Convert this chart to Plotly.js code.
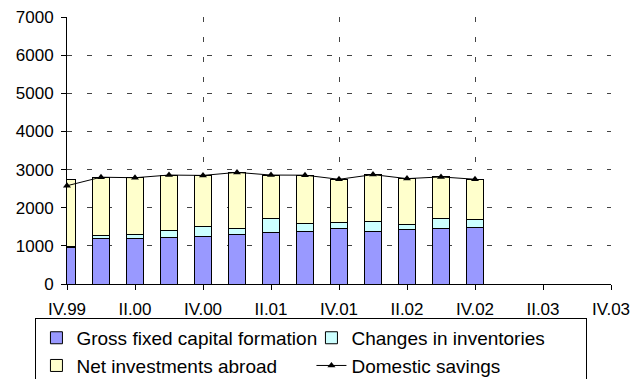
<!DOCTYPE html>
<html>
<head>
<meta charset="utf-8">
<script src="https://cdn.plot.ly/plotly-3.0.1.min.js"></script>
<style>html,body{margin:0;padding:0;background:#fff;}#chart{width:637px;height:379px;}</style>
</head>
<body>
<div id="chart"></div>
<script>
// Quarter categories (full axis) and quarters with data
const quarters = ['IV.99','I.00','II.00','III.00','IV.00','I.01','II.01','III.01','IV.01','I.02','II.02','III.02','IV.02','I.03','II.03','III.03','IV.03'];
const dataQuarters = ['IV.99','I.00','II.00','III.00','IV.00','I.01','II.01','III.01','IV.01','I.02','II.02','III.02','IV.02'];
const tickLabels = ['IV.99','II.00','IV.00','II.01','IV.01','II.02','IV.02','II.03','IV.03'];
const gridQuarters = ['IV.99','IV.00','IV.01','IV.02','IV.03'];

const grossFixedCapital = [970, 1205, 1205, 1231, 1258, 1293, 1345, 1374, 1448, 1377, 1430, 1465, 1491];
const changesInventories = [20, 60, 95, 165, 245, 157, 385, 215, 166, 263, 123, 254, 193];
const netInvestmentsAbroad = [1761, 1530, 1486, 1460, 1344, 1476, 1126, 1264, 1131, 1228, 1210, 1088, 1062];
const domesticSavings = [2576, 2800, 2786, 2856, 2847, 2926, 2856, 2853, 2745, 2868, 2763, 2807, 2746];

const font = 'Liberation Sans, Arial, sans-serif';
const barLine = {color: '#000', width: 1};

const traces = [
  {type: 'bar', name: 'Gross fixed capital formation', x: dataQuarters, y: grossFixedCapital,
   marker: {color: '#9999FF', line: barLine}, width: 0.5, hoverinfo: 'y'},
  {type: 'bar', name: 'Changes in inventories', x: dataQuarters, y: changesInventories,
   marker: {color: '#CCFFFF', line: barLine}, width: 0.5, hoverinfo: 'y'},
  {type: 'bar', name: 'Net investments abroad', x: dataQuarters, y: netInvestmentsAbroad,
   marker: {color: '#FFFFCC', line: barLine}, width: 0.5, hoverinfo: 'y'},
  {type: 'scatter', mode: 'lines+markers', name: 'Domestic savings', x: dataQuarters, y: domesticSavings,
   line: {color: '#000', width: 1}, marker: {symbol: 'triangle-up', size: 7, color: '#000'}, cliponaxis: false},
  {type: 'scatter', mode: 'markers', x: quarters, y: quarters.map(() => null), xaxis: 'x2',
   showlegend: false, hoverinfo: 'skip'}
];

const layout = {
  width: 637, height: 379,
  margin: {l: 67, r: 26, t: 17, b: 95, autoexpand: false},
  paper_bgcolor: '#fff', plot_bgcolor: '#fff',
  barmode: 'stack',
  font: {family: font, size: 17, color: '#000'},
  showlegend: true,
  xaxis: {
    type: 'category', categoryorder: 'array', categoryarray: quarters,
    range: [0, 16], tickmode: 'array', tickvals: tickLabels, ticktext: tickLabels,
    showgrid: false, showline: true, linecolor: '#000', linewidth: 1,
    ticks: 'outside', ticklen: 5, tickcolor: '#000', tickfont: {size: 17}, zeroline: false,
    ticklabelstandoff: 5
  },
  xaxis2: {
    type: 'category', categoryorder: 'array', categoryarray: quarters,
    overlaying: 'x', anchor: 'y', side: 'bottom',
    range: [0, 16], tickmode: 'array', tickvals: gridQuarters,
    showticklabels: false, ticks: '', showline: false,
    showgrid: true, gridcolor: '#444', gridwidth: 1, griddash: '5px,15px'
  },
  yaxis: {
    range: [0, 7000], tickvals: [0,1000,2000,3000,4000,5000,6000,7000],
    showline: true, linecolor: '#000', linewidth: 1,
    ticks: 'outside', ticklen: 5, tickcolor: '#000', tickfont: {size: 17},
    showgrid: true, gridcolor: '#444', gridwidth: 1, griddash: '5px,15px', zeroline: false,
    ticklabelstandoff: 4
  },
  legend: {
    orientation: 'h', traceorder: 'normal',
    x: -0.058, xanchor: 'left', y: -0.127, yanchor: 'top',
    font: {family: font, size: 19, color: '#000'},
    bordercolor: '#000', borderwidth: 1, bgcolor: '#fff',
    entrywidth: 230, entrywidthmode: 'pixels', itemwidth: 30
  }
};

Plotly.newPlot('chart', traces, layout, {staticPlot: true});
</script>
</body>
</html>
